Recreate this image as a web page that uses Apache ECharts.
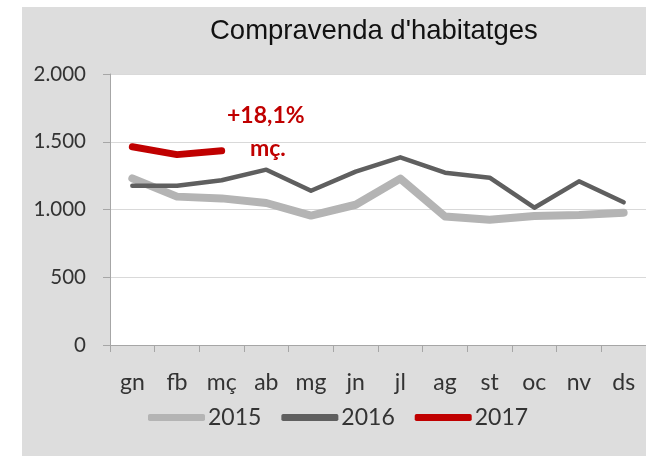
<!DOCTYPE html>
<html>
<head>
<meta charset="utf-8">
<script src="https://cdn.jsdelivr.net/npm/echarts@6/dist/echarts.min.js"></script>
<style>
  html, body { margin: 0; padding: 0; background: #fff; }
  #chart { width: 646px; height: 456px; }
</style>
</head>
<body>
<div id="chart"></div>
<script>
// mesos
var mesos = ['gn', 'fb', 'mç', 'ab', 'mg', 'jn', 'jl', 'ag', 'st', 'oc', 'nv', 'ds'];
// compravendes per any
var any2015 = [1230, 1095, 1082, 1048, 955, 1035, 1228, 948, 925, 952, 960, 976];
var any2016 = [1176, 1176, 1216, 1294, 1138, 1280, 1385, 1272, 1235, 1013, 1208, 1053];
var any2017 = [1463, 1405, 1434];
var yTicks = [0, 500, 1000, 1500, 2000];

var chart = echarts.init(document.getElementById('chart'));

function milers(v) {
    return String(v).replace(/\B(?=(\d{3})+(?!\d))/g, '.');
}

var font = 'Lato, "Open Sans", sans-serif';

var option = {
    backgroundColor: '#fff',
    animation: false,
    graphic: [
        { type: 'rect', z: -10, shape: { x: 22, y: 7, width: 640, height: 460 }, style: { fill: '#dddddd' } },
        { type: 'text', left: 227, top: 104, z: 100, style: { text: '+18,1%', fill: '#c00000', font: 'bold 23px ' + font } },
        { type: 'text', left: 250, top: 137, z: 100, style: { text: 'mç.', fill: '#c00000', font: 'bold 23px ' + font } }
    ],
    title: {
        text: "Compravenda d'habitatges",
        left: 205,
        top: 12,
        textStyle: { fontFamily: '"Liberation Sans", Arial, sans-serif', fontSize: 27.5, fontWeight: 'normal', color: '#111' }
    },
    legend: {
        left: 143,
        top: 401,
        itemWidth: 57,
        itemHeight: 7,
        itemGap: 20,
        icon: 'roundRect',
        textStyle: { fontFamily: font, fontSize: 23, color: '#333', padding: [0, 0, 0, -2] },
        data: ['2015', '2016', '2017']
    },
    grid: {
        left: 110, right: 0, top: 74, bottom: 111,
        show: true, backgroundColor: '#fff', borderWidth: 0
    },
    xAxis: {
        type: 'category',
        data: mesos,
        boundaryGap: true,
        axisLine: { lineStyle: { color: '#a6a6a6', width: 1 } },
        axisTick: { show: true, interval: 0, length: 7, lineStyle: { color: '#a6a6a6' } },
        axisLabel: { interval: 0, margin: 26, fontFamily: font, fontSize: 23, color: '#333' }
    },
    yAxis: {
        type: 'value',
        min: yTicks[0],
        max: yTicks[yTicks.length - 1],
        interval: 500,
        axisLine: { show: true, lineStyle: { color: '#a6a6a6', width: 1 } },
        axisTick: { show: true, length: 7, lineStyle: { color: '#a6a6a6' } },
        splitLine: { lineStyle: { color: '#d9d9d9', width: 1 } },
        axisLabel: { margin: 24, fontFamily: font, fontSize: 20.5, color: '#333', formatter: milers }
    },
    series: [
        {
            name: '2015', type: 'line', data: any2015, showSymbol: false, symbol: 'none',
            itemStyle: { color: '#b4b4b4' },
            lineStyle: { color: '#b4b4b4', width: 8, join: 'round', cap: 'round' }
        },
        {
            name: '2016', type: 'line', data: any2016, showSymbol: false, symbol: 'none',
            itemStyle: { color: '#5f5f5f' },
            lineStyle: { color: '#5f5f5f', width: 4.5, join: 'round', cap: 'round' }
        },
        {
            name: '2017', type: 'line', data: any2017, showSymbol: false, symbol: 'none',
            itemStyle: { color: '#c00000' },
            lineStyle: { color: '#c00000', width: 7, join: 'round', cap: 'round' }
        }
    ]
};

chart.setOption(option);
</script>
</body>
</html>
